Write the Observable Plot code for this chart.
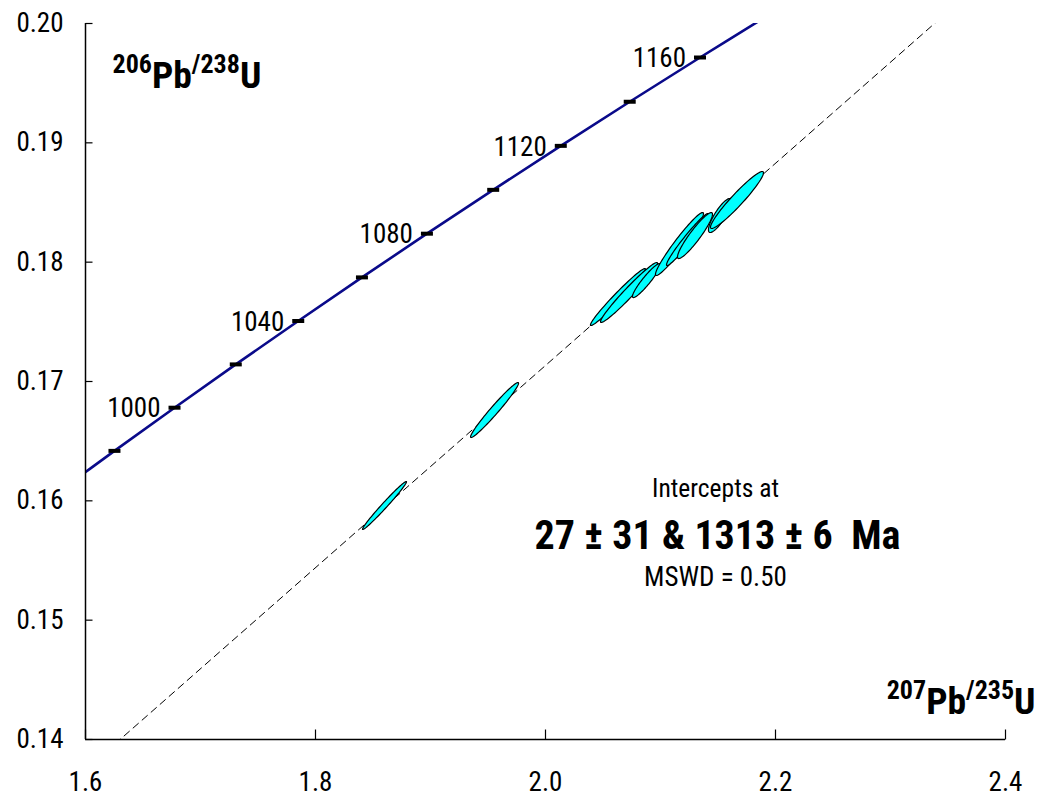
<!DOCTYPE html>
<html>
<head>
<meta charset="utf-8">
<script src="https://cdn.jsdelivr.net/npm/d3@7"></script>
<script src="https://cdn.jsdelivr.net/npm/@observablehq/plot@0.6"></script>
<style>
  html, body { margin: 0; padding: 0; background: #fff; }
  #chart { width: 1044px; height: 799px; }
</style>
</head>
<body>
<div id="chart"></div>
<script>
// ---------- Data ----------
const xDomain = [1.6, 2.4];
const yDomain = [0.14, 0.20];
const xTicks = [1.6, 1.8, 2.0, 2.2, 2.4];
const yTicks = [0.14, 0.15, 0.16, 0.17, 0.18, 0.19, 0.20];

// Concordia curve (age in Ma, 207Pb/235U, 206Pb/238U)
const concAge = [960, 980, 1000, 1020, 1040, 1060, 1080, 1100, 1120, 1140, 1160, 1180];
const concX = [1.574035, 1.625186, 1.677409, 1.730671, 1.784990, 1.840390, 1.896893, 1.954519, 2.013290, 2.073232, 2.134367, 2.196716];
const concY = [0.160580, 0.164186, 0.167804, 0.171432, 0.175072, 0.178724, 0.182386, 0.186060, 0.189746, 0.193443, 0.197151, 0.200871];
const markerAges = [980, 1000, 1020, 1040, 1060, 1080, 1100, 1120, 1140, 1160];
const labelAges = [1000, 1040, 1080, 1120, 1160];

// Discordia through lower (27 Ma) and upper (1313 Ma) intercepts
const discX = [0.02695, 2.64410];
const discY = [0.004197, 0.225906];

// Error ellipses: centre, 2-sigma errors, error correlation
const ellX   = [1.8600, 1.9557, 2.0630, 2.0726, 2.0878, 2.1165, 2.1235, 2.1300, 2.1517, 2.1665];
const ellY   = [0.15961, 0.16761, 0.17708, 0.17746, 0.17846, 0.18152, 0.18190, 0.18223, 0.18391, 0.18521];
const ellSx  = [0.01913, 0.02087, 0.02391, 0.02478, 0.01217, 0.02087, 0.01826, 0.01522, 0.01000, 0.02304];
const ellSy  = [0.002011, 0.002305, 0.002388, 0.002514, 0.001425, 0.002640, 0.002179, 0.001927, 0.001425, 0.002388];
const ellRho = [0.9870, 0.9762, 0.9797, 0.9745, 0.9332, 0.9625, 0.9711, 0.9279, 0.8423, 0.9539];

const yTitle = "206Pb/238U";
const xTitle = "207Pb/235U";
const interceptLines = ["Intercepts at", "27 \u00b1 31 & 1313 \u00b1 6  Ma", "MSWD = 0.50"];

// ---------- Derived tables ----------
const conc = concAge.map((a, i) => ({age: a, x: concX[i], y: concY[i]}));
const markers = conc.filter(d => markerAges.includes(d.age));
const labels = conc.filter(d => labelAges.includes(d.age));
const disc = discX.map((x, i) => ({x, y: discY[i]}));
const ellPts = [];
ellX.forEach((cx, k) => {
  const sx = ellSx[k], sy = ellSy[k], r = ellRho[k], q = Math.sqrt(1 - r * r);
  for (let j = 0; j < 90; j++) {
    const t = 2 * Math.PI * j / 90;
    ellPts.push({id: k, x: cx + sx * Math.cos(t), y: ellY[k] + sy * (r * Math.cos(t) + q * Math.sin(t))});
  }
});

const FONT = '"Liberation Sans Narrow", "Arial Narrow", "Roboto Condensed", sans-serif';
const rectSymbol = {draw(ctx) { ctx.rect(-6, -2, 12, 4); }};
const vTick = {draw(ctx) { ctx.moveTo(0, 0); ctx.lineTo(0, -10); }};
const hTick = {draw(ctx) { ctx.moveTo(0, 0); ctx.lineTo(7, 0); }};

const plot = Plot.plot({
  width: 1044,
  height: 799,
  marginLeft: 85,
  marginRight: 39,
  marginTop: 23,
  marginBottom: 60,
  style: {fontFamily: FONT, fontSize: "27px", color: "#000", background: "#fff", overflow: "visible"},
  x: {domain: xDomain, ticks: xTicks, tickFormat: d3.format(".1f"), tickSize: 0, tickPadding: 32, label: null},
  y: {domain: yDomain, ticks: yTicks, tickFormat: d3.format(".2f"), tickSize: 0, tickPadding: 22, label: null},
  marks: [
    // discordia
    Plot.line(disc, {x: "x", y: "y", stroke: "#000", strokeWidth: 1, strokeDasharray: "7,5", clip: true}),
    // concordia
    Plot.line(conc, {x: "x", y: "y", stroke: "#0a0a8a", strokeWidth: 2.6, curve: "catmull-rom", clip: true}),
    Plot.dot(markers, {x: "x", y: "y", symbol: rectSymbol, fill: "#000", stroke: null, r: 5}),
    Plot.text(labels, {x: "x", y: "y", text: d => String(d.age), textAnchor: "end", dx: -14, dy: 1, fontSize: 27}),
    // ellipses
    Plot.line(ellPts, {x: "x", y: "y", z: "id", fill: "#00ffff", stroke: "#000", strokeWidth: 1.2, curve: "linear-closed"}),
    // axes lines and inward ticks
    Plot.ruleX([xDomain[0]], {stroke: "#000", strokeWidth: 1.5}),
    Plot.ruleY([yDomain[0]], {stroke: "#000", strokeWidth: 1.5}),
    Plot.dot(xTicks, {x: d => d, y: () => yDomain[0], symbol: vTick, stroke: "#000", strokeWidth: 1.2, fill: null, r: 5}),
    Plot.dot(yTicks, {x: () => xDomain[0], y: d => d, symbol: hTick, stroke: "#000", strokeWidth: 1.2, fill: null, r: 5}),
    // intercept annotation
    Plot.text([interceptLines[0]], {frameAnchor: "top-left", lineAnchor: "middle", dx: 630, dy: 465, text: d => d, textAnchor: "middle", fontSize: 25.5}),
    Plot.text([interceptLines[1]], {frameAnchor: "top-left", lineAnchor: "middle", dx: 632, dy: 513, text: d => d, textAnchor: "middle", fontSize: 40, fontWeight: "bold"}),
    Plot.text([interceptLines[2]], {frameAnchor: "top-left", lineAnchor: "middle", dx: 630, dy: 554, text: d => d, textAnchor: "middle", fontSize: 27}),
    // axis titles (superscripts added below)
    Plot.text([yTitle], {frameAnchor: "top-left", dx: 27, dy: 38, text: d => d, textAnchor: "start", fontWeight: "bold", fontSize: 37.5}),
    Plot.text([xTitle], {frameAnchor: "bottom-right", dx: 30, dy: -26, text: d => d, textAnchor: "end", fontWeight: "bold", fontSize: 37.5})
  ]
});

// Rich text for isotope ratio titles: superscript mass numbers
d3.select(plot).selectAll("text").each(function() {
  const t = this.textContent;
  if (t !== yTitle && t !== xTitle) return;
  const m = t.match(/^(\d+)(Pb)(\/\d+)(U)$/);
  const el = d3.select(this);
  el.attr("dy", null).text(null);
  el.append("tspan").attr("font-size", 26).attr("dy", -15).text(m[1]);
  el.append("tspan").attr("font-size", 37.5).attr("dy", 15).text(m[2]);
  el.append("tspan").attr("font-size", 26).attr("dy", -15).text(m[3]);
  el.append("tspan").attr("font-size", 37.5).attr("dy", 15).text(m[4]);
});

document.getElementById("chart").appendChild(plot);
</script>
</body>
</html>
